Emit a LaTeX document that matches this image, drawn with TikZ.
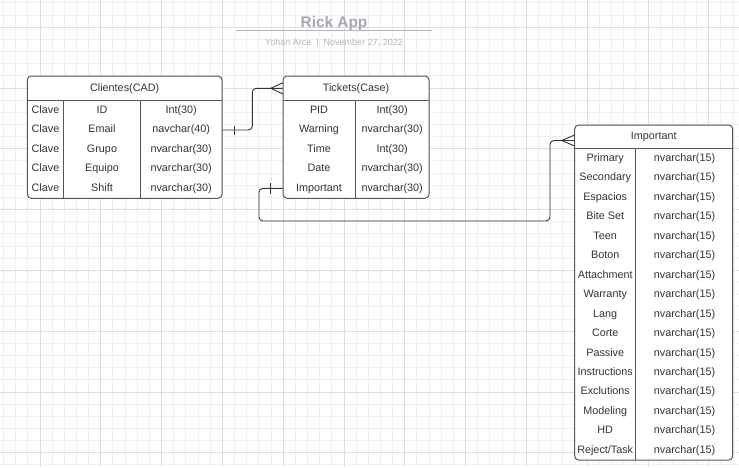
\documentclass[tikz,border=0pt]{standalone}
\usepackage{fontspec}
\setmainfont{Liberation Sans}
\definecolor{gminor}{HTML}{EFEFEF}
\definecolor{gmajor}{HTML}{DDDDDD}
\definecolor{border}{HTML}{555555}
\definecolor{txt}{HTML}{333333}
\definecolor{ttl}{HTML}{A3A8B2}
\definecolor{sub}{HTML}{B2B6BD}
\begin{document}
\begin{tikzpicture}[x=1pt,y=-1pt,
  minorgrid/.style={draw=gminor,line width=1pt},
  majorgrid/.style={draw=gmajor,line width=1pt},
  tbl/.style={draw=border,line width=1pt,rounded corners=4pt,fill=white,inner sep=0pt},
  sepline/.style={draw=border,line width=0.9pt},
  cell/.style={font=\fontsize{10.8}{13}\selectfont,text=txt,inner sep=0pt,anchor=base},
  conn/.style={draw=txt,line width=0.9pt,rounded corners=4pt},
  crow/.style={draw=txt,line width=0.9pt}
]
\useasboundingbox (0,0) rectangle (739,467);
\fill[white] (0,0) rectangle (739,467);
% grid
\foreach \i in {0,...,60} \draw[minorgrid] ({3.52+12.16*\i},0) -- ({3.52+12.16*\i},467);
\foreach \j in {0,...,38} \draw[minorgrid] (0,{2.9+12.16*\j}) -- (739,{2.9+12.16*\j});
\foreach \i in {0,...,11} \draw[majorgrid] ({40+60.8*\i},0) -- ({40+60.8*\i},467);
\foreach \j in {0,...,7} \draw[majorgrid] (0,{27.3+60.8*\j}) -- (739,{27.3+60.8*\j});

% title
\node[font=\bfseries\fontsize{15.4}{18}\selectfont,text=ttl,inner sep=0pt,anchor=base] (title) at (334,27) {Rick App};
\draw[draw=sub,line width=1.2pt] (236,30.5) -- (432,30.5);
\node[font=\fontsize{9}{11}\selectfont,text=sub,inner sep=0pt,anchor=base] (subt) at (334,45.5) {Yohan Arce~~|~~November 27, 2022};

% Clientes table
\node[tbl,minimum width=194.7pt,minimum height=122.3pt] (cli) at (124.65,137.15) {};
\draw[sepline] (27.3,100) -- (222,100);
\draw[sepline] (63.7,100) -- (63.7,198.3);
\draw[sepline] (140.3,100) -- (140.3,198.3);
\node[cell] (clih) at (124.65,91.3) {Clientes(CAD)};
\foreach \n/\t [count=\i] in {ID/Int(30),Email/navchar(40),Grupo/nvarchar(30),Equipo/nvarchar(30),Shift/nvarchar(30)}{
  \node[cell] (cl\i) at (45.5,{113.3+19.5*(\i-1)}) {Clave};
  \node[cell] (cn\i) at (102,{113.3+19.5*(\i-1)}) {\n};
  \node[cell] (ct\i) at (181.2,{113.3+19.5*(\i-1)}) {\t};
}

% Tickets table
\node[tbl,minimum width=146pt,minimum height=122.3pt] (tic) at (356,137.15) {};
\draw[sepline] (283,100) -- (429,100);
\draw[sepline] (355.3,100) -- (355.3,198.3);
\node[cell] (tich) at (356,91.3) {Tickets(Case)};
\foreach \n/\t [count=\i] in {PID/Int(30),Warning/nvarchar(30),Time/Int(30),Date/nvarchar(30),Important/nvarchar(30)}{
  \node[cell] (tn\i) at (319,{113.3+19.5*(\i-1)}) {\n};
  \node[cell] (tt\i) at (392.2,{113.3+19.5*(\i-1)}) {\t};
}

% Important table
\node[tbl,minimum width=158pt,minimum height=335pt] (imp) at (653.7,292.5) {};
\draw[sepline] (574.7,148.3) -- (732.7,148.3);
\draw[sepline] (635.7,148.3) -- (635.7,460);
\node[cell] (imph) at (653.7,139.8) {Important};
\foreach \n [count=\i] in {Primary,Secondary,Espacios,Bite Set,Teen,Boton,Attachment,Warranty,Lang,Corte,Passive,Instructions,Exclutions,Modeling,HD,Reject/Task}{
  \node[cell] (in\i) at (605.2,{161.3+19.47*(\i-1)}) {\n};
  \node[cell] (it\i) at (684.5,{161.3+19.47*(\i-1)}) {nvarchar(15)};
}

% connector Clientes -> Tickets
\coordinate (a1) at (cli.east |- 0,130);
\coordinate (a2) at (tic.west |- 0,88.3);
\draw[conn] (a1) -- (252.3,130) -- (252.3,88.3) -- (a2);
\draw[crow] (234.3,125.5) -- (234.3,135);
\draw[crow] (270.7,88.3) -- (283,82.7);
\draw[crow] (270.7,88.3) -- (283,94);

% connector Tickets -> Important
\coordinate (b1) at (tic.west |- 0,188.3);
\coordinate (b2) at (imp.west |- 0,140.5);
\draw[conn] (b1) -- (259,188.3) -- (259,221) -- (550,221) -- (550,140.5) -- (b2);
\draw[crow] (270.7,183) -- (270.7,194);
\draw[crow] (561.7,140.5) -- (574.7,135);
\draw[crow] (561.7,140.5) -- (574.7,146);
\end{tikzpicture}
\end{document}
